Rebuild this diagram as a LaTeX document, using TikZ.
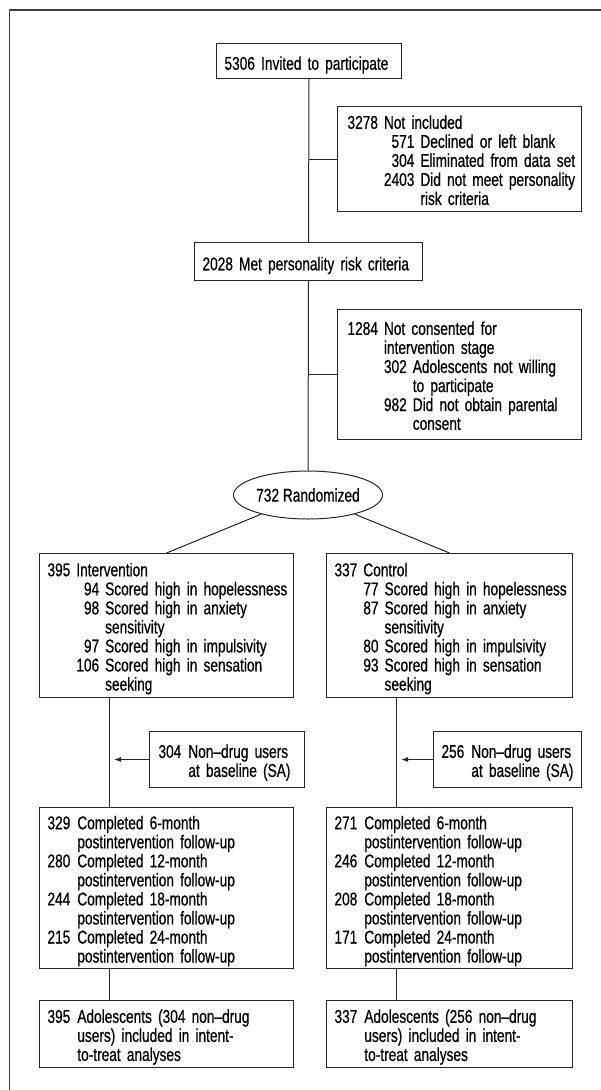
\documentclass[tikz,border=0pt]{standalone}
\usepackage{fontspec}
\setmainfont[FakeStretch=0.74,FakeBold=0.6]{Liberation Sans}
\usetikzlibrary{shapes.geometric,arrows.meta}
\newcommand{\hd}[1]{\multicolumn{2}{@{}l@{}}{#1}}
\newcommand{\lo}[1]{\raisebox{-4pt}[\height][\depth]{#1}}
\begin{document}
\begin{tikzpicture}[x=1pt,y=-1pt,font=\fontsize{18.5}{18.8}\selectfont,
    box/.style 2 args={draw=black!85,line width=1pt,anchor=north west,inner xsep=8pt,inner ysep=0pt,text width=#1,minimum height=#2,align=left},
    line/.style={draw=black!85,line width=1pt},
    arr/.style={line,-{Latex[length=7pt,width=5pt]},shorten >=5pt}]
  \useasboundingbox (0,0) rectangle (601,1090);
  \draw[line width=1.6pt,black!75] (9.5,1090) -- (9.5,10) -- (601,10);
  \node[box={169pt}{35pt}] (invite) at (216,43) {\lo{5306 Invited to participate}};
  \node[box={224pt}{105pt},inner xsep=10pt] (notinc) at (337,106) {\lo{%
    \begin{tabular}{@{}l@{\hspace{6pt}}r@{\hspace{6pt}}l@{}}
      3278 & \hd{Not included}\\
      & 571 & Declined or left blank\\
      & 304 & Eliminated from data set\\
      & 2403 & Did not meet personality\\
      & & risk criteria
    \end{tabular}}};
  \node[box={212pt}{38pt},inner xsep=8pt] (met) at (194,242) {\lo{2028 Met personality risk criteria}};
  \node[box={224pt}{130pt},inner xsep=10pt] (notcons) at (337,309) {\lo{%
    \begin{tabular}{@{}l@{\hspace{6pt}}r@{\hspace{6pt}}l@{}}
      1284 & \hd{Not consented for}\\
      & \hd{intervention stage}\\
      & 302 & Adolescents not willing\\
      & & to participate\\
      & 982 & Did not obtain parental\\
      & & consent
    \end{tabular}}};
  \node[ellipse,draw=black!85,line width=1pt,minimum width=149pt,minimum height=48pt,inner sep=0pt] (rand) at (308,495) {732 Randomized};
  \node[box={238pt}{144pt}] (interv) at (39,553) {\lo{%
    \begin{tabular}{@{}l@{\hspace{6pt}}r@{\hspace{6pt}}l@{}}
      395 & \hd{Intervention}\\
      & 94 & Scored high in hopelessness\\
      & 98 & Scored high in anxiety\\
      & & sensitivity\\
      & 97 & Scored high in impulsivity\\
      & 106 & Scored high in sensation\\
      & & seeking
    \end{tabular}}};
  \node[box={230pt}{144pt}] (control) at (326,553) {\lo{%
    \begin{tabular}{@{}l@{\hspace{6pt}}r@{\hspace{6pt}}l@{}}
      337 & \hd{Control}\\
      & 77 & Scored high in hopelessness\\
      & 87 & Scored high in anxiety\\
      & & sensitivity\\
      & 80 & Scored high in impulsivity\\
      & 93 & Scored high in sensation\\
      & & seeking
    \end{tabular}}};
  \node[box={137pt}{56pt},inner xsep=9pt] (nduL) at (149,731) {\lo{%
    \begin{tabular}{@{}l@{\hspace{7pt}}l@{}}
      304 & Non–drug users\\
      & at baseline (SA)
    \end{tabular}}};
  \node[box={132pt}{56pt}] (nduR) at (433,731) {\lo{%
    \begin{tabular}{@{}l@{\hspace{7pt}}l@{}}
      256 & Non–drug users\\
      & at baseline (SA)
    \end{tabular}}};
  \node[box={238pt}{161pt}] (compL) at (39,807) {\lo{%
    \begin{tabular}{@{}l@{\hspace{7pt}}l@{}}
      329 & Completed 6-month\\
      & postintervention follow-up\\
      280 & Completed 12-month\\
      & postintervention follow-up\\
      244 & Completed 18-month\\
      & postintervention follow-up\\
      215 & Completed 24-month\\
      & postintervention follow-up
    \end{tabular}}};
  \node[box={230pt}{161pt}] (compR) at (326,807) {\lo{%
    \begin{tabular}{@{}l@{\hspace{7pt}}l@{}}
      271 & Completed 6-month\\
      & postintervention follow-up\\
      246 & Completed 12-month\\
      & postintervention follow-up\\
      208 & Completed 18-month\\
      & postintervention follow-up\\
      171 & Completed 24-month\\
      & postintervention follow-up
    \end{tabular}}};
  \node[box={238pt}{67pt}] (itL) at (39,1000) {\lo{%
    \begin{tabular}{@{}l@{\hspace{7pt}}l@{}}
      395 & Adolescents (304 non–drug\\
      & users) included in intent-\\
      & to-treat analyses
    \end{tabular}}};
  \node[box={230pt}{67pt}] (itR) at (326,1000) {\lo{%
    \begin{tabular}{@{}l@{\hspace{7pt}}l@{}}
      337 & Adolescents (256 non–drug\\
      & users) included in intent-\\
      & to-treat analyses
    \end{tabular}}};
  \coordinate (spL) at ([xshift=70pt]interv.south west);
  \coordinate (spR) at ([xshift=70pt]control.south west);
  \draw[line] (invite.south) -- (met.north);
  \draw[line] (notinc.west) -- (notinc.west -| invite.south);
  \draw[line] (met.south) -- (rand.north);
  \draw[line] (notcons.west) -- (notcons.west -| rand.north);
  \draw[line] (rand) -- (interv.north);
  \draw[line] (rand) -- (control.north);
  \draw[line] (spL) -- (spL |- compL.north);
  \draw[line] (spR) -- (spR |- compR.north);
  \draw[arr] (nduL.west) -- (nduL.west -| spL);
  \draw[arr] (nduR.west) -- (nduR.west -| spR);
  \draw[line] (spL |- compL.south) -- (spL |- itL.north);
  \draw[line] (spR |- compR.south) -- (spR |- itR.north);
\end{tikzpicture}
\end{document}
